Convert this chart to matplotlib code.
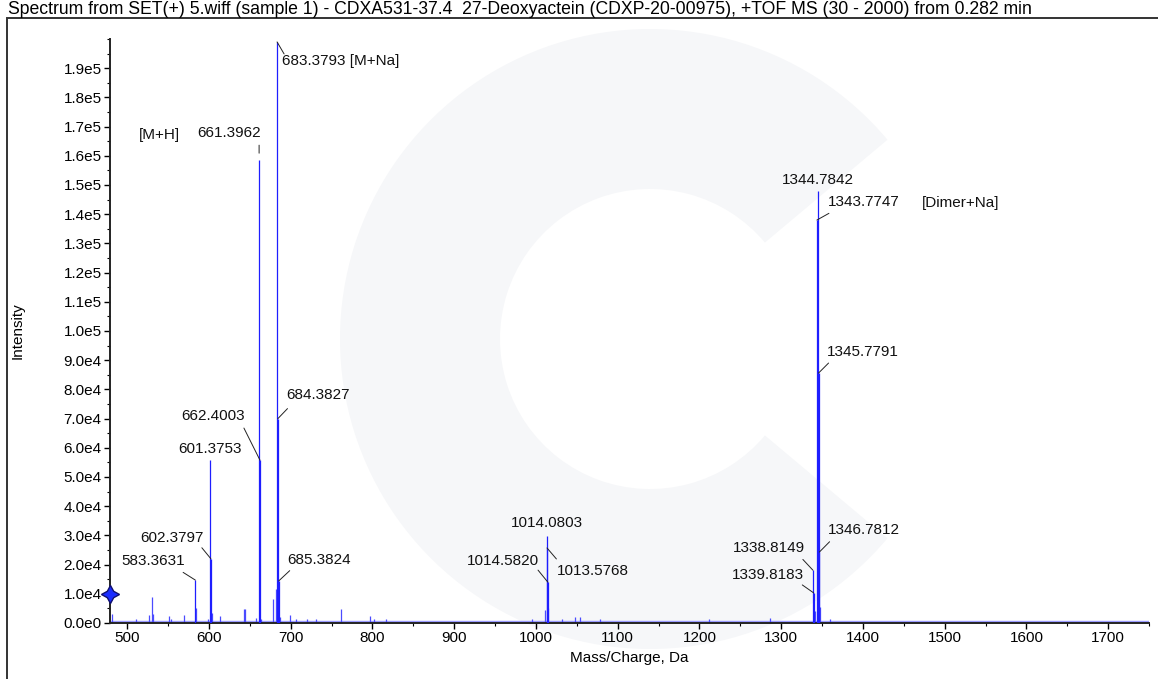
import matplotlib
matplotlib.use('Agg')
import matplotlib.pyplot as plt
from matplotlib.patches import Rectangle, Wedge
from matplotlib.ticker import MultipleLocator, FuncFormatter

# Picos etiquetados (m/z, intensidad)
pico_mz = [583.3631, 601.3753, 602.3797, 661.3962, 662.4003, 683.3793, 684.3827,
           685.3824, 1013.5768, 1014.0803, 1014.5820, 1338.8149, 1339.8183,
           1343.7747, 1344.7842, 1345.7791, 1346.7812]
pico_int = [1.47e4, 5.58e4, 2.20e4, 1.585e5, 5.58e4, 1.99e5, 7.00e4,
            1.44e4, 2.57e4, 2.98e4, 1.40e4, 1.81e4, 1.03e4,
            1.38e5, 1.48e5, 8.56e4, 2.43e4]

# Picos pequeños sin etiqueta
menor_mz = [481.7, 510.3, 526.5, 529.8, 531.0, 551.0, 553.4, 569.7, 584.4, 598.3,
            603.9, 613.7, 642.7, 644.3, 658.2, 663.4, 679.0, 681.5, 687.1, 699.8,
            707.1, 720.6, 730.4, 761.0, 797.6, 802.0, 817.0, 995.7, 1011.6, 1015.3,
            1032.0, 1048.3, 1054.0, 1079.0, 1211.7, 1285.9, 1341.0, 1347.7, 1359.6]
menor_int = [3.1e3, 1.4e3, 2.7e3, 8.9e3, 3.0e3, 2.4e3, 1.2e3, 2.7e3, 5.1e3, 1.5e3,
             3.4e3, 2.4e3, 4.8e3, 4.8e3, 1.6e3, 1.5e3, 8.2e3, 1.16e4, 2.0e3, 2.7e3,
             1.5e3, 1.5e3, 1.2e3, 4.8e3, 2.4e3, 1.5e3, 1.5e3, 1.2e3, 4.5e3, 5.3e3,
             1.5e3, 2.0e3, 2.0e3, 1.2e3, 1.4e3, 1.8e3, 4.1e3, 5.6e3, 1.5e3]

# Línea base de ruido
base_mz = [479, 1750]
base_int = [600, 600]

# Etiquetas de los picos
etiquetas = ['583.3631', '601.3753', '602.3797', '661.3962', '662.4003',
             '683.3793 [M+Na]', '684.3827', '685.3824', '1013.5768', '1014.0803',
             '1014.5820', '1338.8149', '1339.8183', '1343.7747', '1344.7842',
             '1345.7791', '1346.7812']

# Etiquetas de iones: texto, pico de referencia
iones = ['[M+H]', '[Dimer+Na]']
iones_ref = [661.3962, 1343.7747]

titulo = ('Spectrum from SET(+) 5.wiff (sample 1) - CDXA531-37.4  27-Deoxyactein '
          '(CDXP-20-00975), +TOF MS (30 - 2000) from 0.282 min')

# Posición del texto relativa al pico (px): dx, dy, alineación
texto_pos = [(-10.5, 19, 'right'), (0, 11, 'center'), (-7.7, 21, 'right'),
             (1.7, 27, 'right'), (-15, 44, 'right'), (5, -19, 'left'),
             (8.6, 23.5, 'left'), (8.4, 21, 'left'), (9.4, -22.7, 'left'),
             (0, 13, 'center'), (-8.8, 21.3, 'right'), (-8.3, 21.7, 'right'),
             (-10.1, 18, 'right'), (10.9, 18.3, 'left'), (0, 10.7, 'center'),
             (8.7, 21.3, 'left'), (8.5, 22, 'left')]
# Líneas guía (px): dx, dy, hueco junto al pico
guia_pos = [(-12.2, 7.7, 0), None, (-9, 11, 0), (0, 15, 7), (-16, 32, 0),
            (7, -12, 0), (9.6, 10, 0), (11, 10.3, 0), (9.4, -11, 0), None,
            (-9.8, 12, 0), (-10, 10.7, 0), (-11.4, 8, 0), (12, 6.7, 0), None,
            (10, 10, 0), (10.2, 10.3, 0)]
iones_pos = [(-100, 25), (143.6, 17.3)]

plt.rcParams['font.family'] = ['Liberation Sans', 'DejaVu Sans']
plt.rcParams['font.size'] = 11

dpi = 100
px = 72 / dpi  # px -> puntos

fig = plt.figure(figsize=(11.58, 6.79), dpi=dpi)
ax = fig.add_axes([110 / 1158, 56 / 679, 1039 / 1158, 584 / 679])
ax.patch.set_alpha(0)

# Marca de agua tenue
marca = Wedge((6.5, 3.4), 3.1, 40, 320, width=1.6, transform=fig.dpi_scale_trans,
              facecolor='#f6f7f9', edgecolor='none', zorder=-5)
fig.patches.append(marca)

ax.plot(base_mz, base_int, color='#9a9aff', lw=1.0, zorder=1)
ax.vlines(menor_mz, 0, menor_int, color='#4b4bff', lw=0.9, zorder=2)
ax.vlines(pico_mz, 0, pico_int, color='#1e1eff', lw=0.9, zorder=3)

for i, txt in enumerate(etiquetas):
    x, y = pico_mz[i], pico_int[i]
    dx, dy, ha = texto_pos[i]
    ax.annotate(txt, xy=(x, y), xytext=(dx * px, dy * px), textcoords='offset points',
                ha=ha, va='center', fontsize=11, color='#111111', zorder=5)
    if guia_pos[i] is not None:
        gx, gy, hueco = guia_pos[i]
        ax.annotate('', xy=(x, y), xytext=(gx * px, gy * px), textcoords='offset points',
                    arrowprops=dict(arrowstyle='-', color='#222222', lw=0.7,
                                    shrinkA=0, shrinkB=hueco * px), zorder=4)

for txt, ref, (dx, dy) in zip(iones, iones_ref, iones_pos):
    y = pico_int[pico_mz.index(ref)]
    ax.annotate(txt, xy=(ref, y), xytext=(dx * px, dy * px), textcoords='offset points',
                ha='center', va='center', fontsize=11, color='#111111')

ax.set_xlim(479, 1750)
ax.set_ylim(0, 2.0e5)
ax.xaxis.set_major_locator(MultipleLocator(100))
ax.xaxis.set_minor_locator(MultipleLocator(50))
ax.yaxis.set_major_locator(MultipleLocator(1e4))
ax.yaxis.set_minor_locator(MultipleLocator(5e3))


def formato_y(v, pos):
    if v == 0:
        return '0.0e0'
    exp = int(f'{v:e}'.split('e')[1])
    return f'{v / 10 ** exp:.1f}e{exp}'


ax.yaxis.set_major_formatter(FuncFormatter(formato_y))
ax.set_yticks([t * 1e4 for t in range(20)])
ax.tick_params(which='major', length=4, width=1, direction='out', labelsize=11, pad=2)
ax.tick_params(which='minor', length=2, width=0.8, direction='out')
ax.spines['top'].set_visible(False)
ax.spines['right'].set_visible(False)
for s in ('left', 'bottom'):
    ax.spines[s].set_linewidth(1.4)
    ax.spines[s].set_color('#222222')

ax.set_xlabel('Mass/Charge, Da', fontsize=11, labelpad=4)
ax.set_ylabel('Intensity', fontsize=11)
ax.yaxis.set_label_coords(-0.082, 0.5)

# Marcador azul en el eje y
ax.plot([0], [1e4], marker=(4, 1, 0), markersize=13, color='#1a2cff',
        markeredgecolor='#101070', transform=ax.get_yaxis_transform(), clip_on=False, zorder=6)

# Marco exterior y título
fig.patches.append(Rectangle((7 / 1158, -0.01), 1.0, 1 - 18 / 679 + 0.01,
                             transform=fig.transFigure, fill=False, edgecolor='#333333',
                             lw=1.4, zorder=-1))
fig.text(8 / 1158, 1 - 9 / 679, titulo, ha='left', va='center', fontsize=12.7)

fig.savefig('out.png', dpi=dpi)
